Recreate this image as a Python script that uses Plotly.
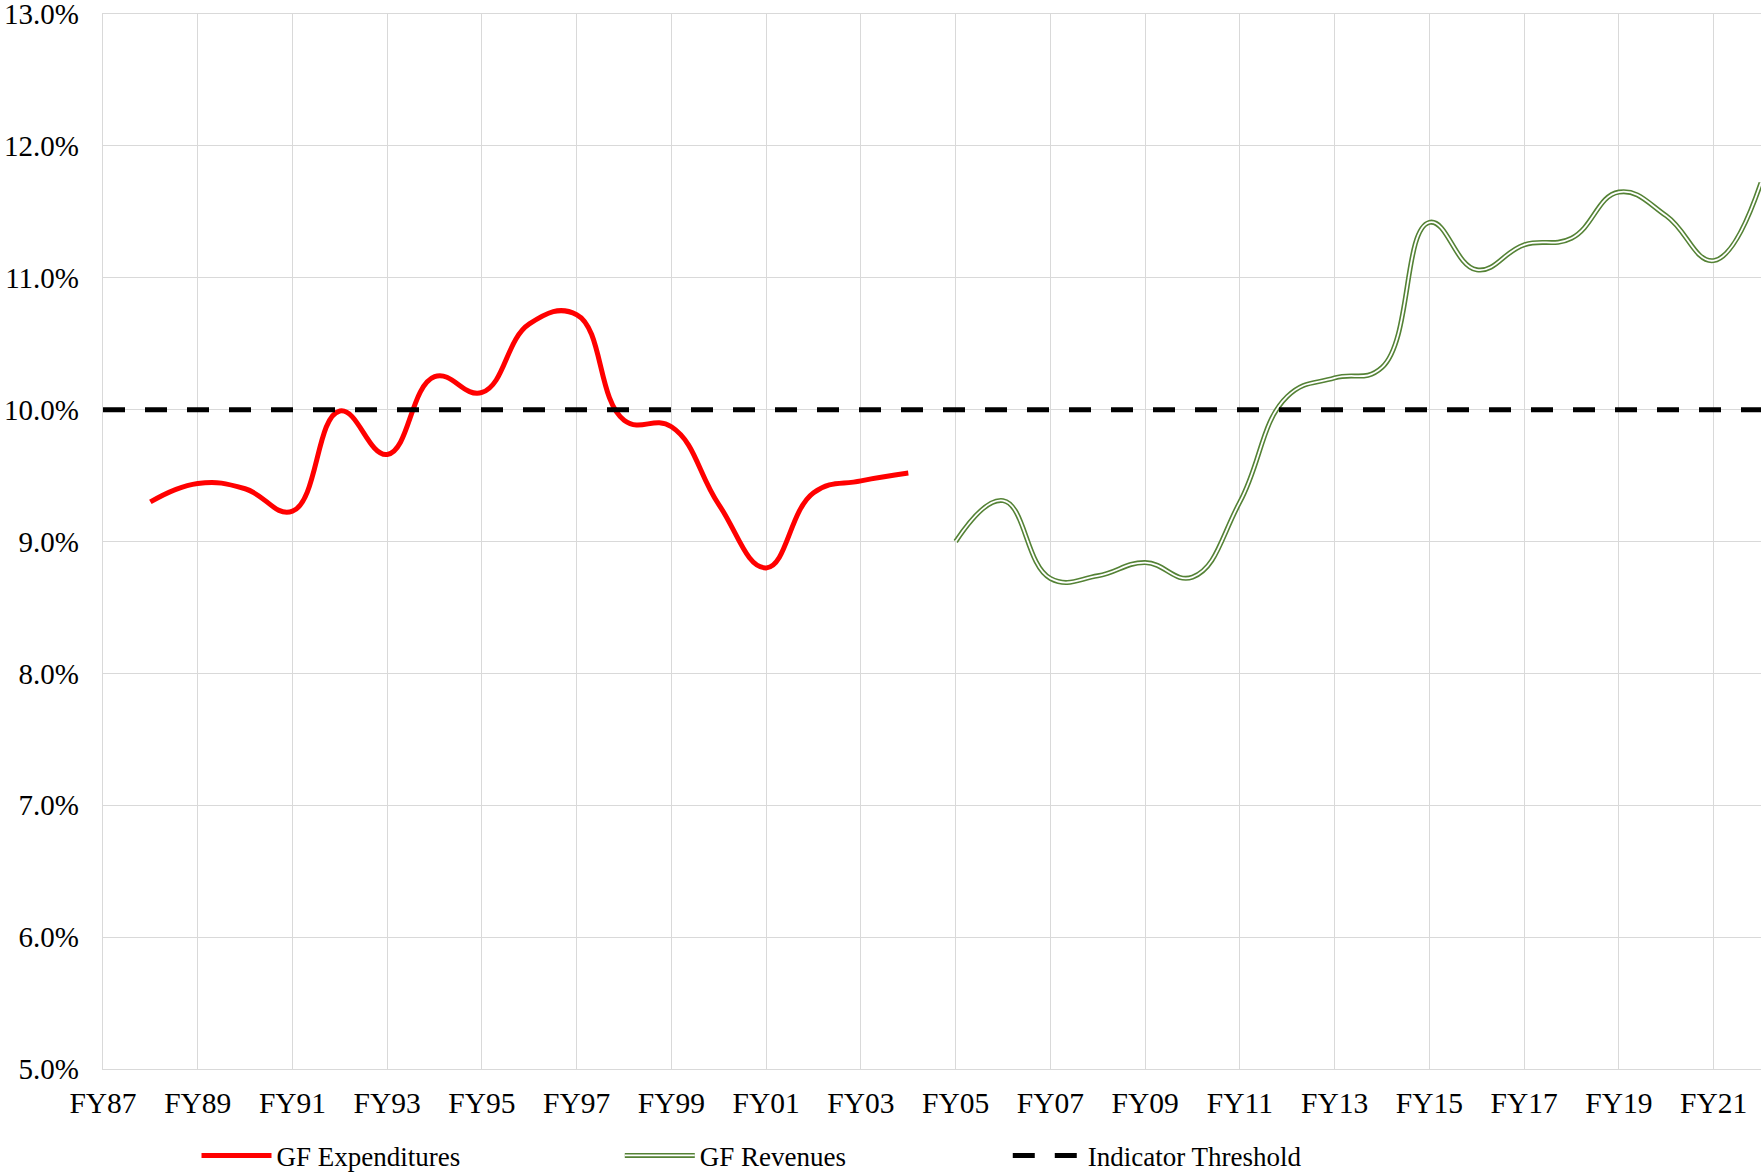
import plotly.graph_objects as go

categories = ["FY%02d" % (y % 100) for y in range(1987, 2023)]

exp_cats = categories[1:18]          # FY88 - FY04
exp_vals = [9.30, 9.44, 9.40, 9.23, 9.99, 9.66, 10.25, 10.13, 10.65, 10.72,
            9.92, 9.87, 9.28, 8.80, 9.37, 9.46, 9.52]

rev_cats = categories[18:]           # FY05 - FY22
rev_vals = [9.00, 9.31, 8.72, 8.74, 8.84, 8.73, 9.30, 10.10, 10.24, 10.32,
            11.42, 11.06, 11.25, 11.30, 11.65, 11.47, 11.13, 11.72]

threshold_vals = [10.0] * len(categories)

tick_labels = categories[::2]

FONT = "Liberation Serif, Times New Roman, serif"
GREEN = "#548235"
SMOOTH = 1.25

fig = go.Figure()
fig.add_trace(go.Scatter(x=exp_cats, y=exp_vals, mode="lines", name="GF Expenditures",
                         line=dict(color="#FF0000", width=5, shape="spline", smoothing=SMOOTH),
                         legend="legend"))
fig.add_trace(go.Scatter(x=rev_cats, y=rev_vals, mode="lines", name="GF Revenues",
                         line=dict(color=GREEN, width=5, shape="spline", smoothing=SMOOTH),
                         legend="legend2"))
fig.add_trace(go.Scatter(x=rev_cats, y=rev_vals, mode="lines", name=" ",
                         line=dict(color="white", width=1.8, shape="spline", smoothing=SMOOTH),
                         legend="legend4"))
fig.add_trace(go.Scatter(x=categories, y=threshold_vals, mode="lines", name="Indicator Threshold",
                         line=dict(color="black", width=5, dash="22px,20px"),
                         legend="legend3"))

leg_common = dict(orientation="h", yanchor="middle", y=-0.0823, xanchor="left",
                  bgcolor="rgba(0,0,0,0)", font=dict(family=FONT, size=27, color="black"),
                  itemwidth=70, visible=True)

fig.update_layout(
    width=1761, height=1175,
    margin=dict(l=103, r=0, t=14, b=106, autoexpand=False),
    paper_bgcolor="white", plot_bgcolor="white",
    font=dict(family=FONT, size=27, color="black"),
    showlegend=True,
    legend=dict(x=0.0564, **leg_common),
    legend2=dict(x=0.3117, **leg_common),
    legend3=dict(x=0.5457, **leg_common),
    legend4=dict(x=0.3117, **leg_common),
    xaxis=dict(type="category", categoryorder="array", categoryarray=categories,
               range=[0, len(categories) - 1], tickmode="array", tickvals=tick_labels,
               ticktext=tick_labels, showgrid=True, gridcolor="#D9D9D9", gridwidth=1.4,
               showline=True, linecolor="#D9D9D9", linewidth=1.4, mirror=True,
               ticks="", ticklabelstandoff=7, zeroline=False, automargin=False,
               tickfont=dict(family=FONT, size=29.5, color="black")),
    yaxis=dict(range=[5, 13], dtick=1, tickformat=".1f", ticksuffix="%",
               showgrid=True, gridcolor="#D9D9D9", gridwidth=1.4,
               showline=True, linecolor="#D9D9D9", linewidth=1.4, mirror=True,
               ticks="", ticklabelstandoff=17, zeroline=False, automargin=False,
               ticklabeloverflow="allow",
               tickfont=dict(family=FONT, size=29, color="black")),
)

fig.write_html("out.html", config={"displayModeBar": False},
               post_script="document.body.style.margin='0';document.body.style.padding='0';"
                           "document.body.style.overflow='hidden';")
